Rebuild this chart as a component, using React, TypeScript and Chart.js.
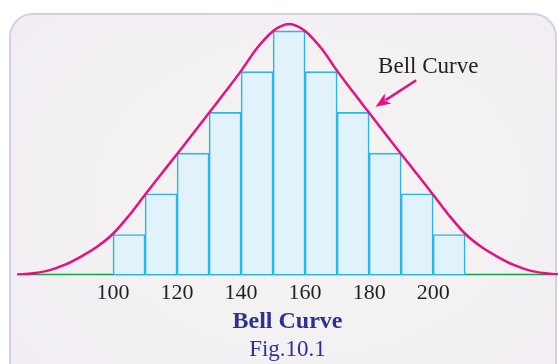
import React, { useEffect, useRef } from "react";
import { Chart, registerables } from "chart.js";

Chart.register(...registerables);

// Histogram classes (centres) and frequencies
const classMid = [105, 115, 125, 135, 145, 155, 165, 175, 185, 195, 205];
const frequencies = [1, 2, 3, 4, 5, 6, 5, 4, 3, 2, 1];

// Bell curve samples
const curveX = [70, 75, 80, 85, 90, 95, 100, 105, 110, 115, 120, 125, 130, 135, 140, 145, 150, 152.5, 155, 157.5, 160, 165, 170, 175, 180, 185, 190, 195, 200, 205, 210, 215, 220, 225, 230, 235, 240];
const curveY = [0.02, 0.05, 0.12, 0.26, 0.46, 0.7, 1.02, 1.47, 1.98, 2.48, 2.98, 3.48, 3.99, 4.5, 5.02, 5.58, 6.0, 6.12, 6.17, 6.12, 6.0, 5.58, 5.02, 4.5, 3.99, 3.48, 2.98, 2.48, 1.98, 1.47, 1.02, 0.7, 0.46, 0.26, 0.12, 0.05, 0.02];

// Base line
const baseX = [70, 236.6];
const baseY = [0, 0];

const tickValues = [100, 120, 140, 160, 180, 200];

const titleText = "Bell Curve";
const subtitleText = "Fig.10.1";
const annotationText = "Bell Curve";
// annotation anchor (data coords): text, arrow tail, arrow tip
const annotationPos = [182.8, 5.12];
const arrowTail = [194.7, 4.79];
const arrowTip = [182.0, 4.14];

const FONT = "'Liberation Serif', 'Times New Roman', serif";

export default function App() {
  const ref = useRef<HTMLCanvasElement | null>(null);

  useEffect(() => {
    if (!ref.current) return;
    Chart.defaults.font.family = FONT;

    const annotationPlugin = {
      id: "annot",
      afterDraw(chart: any) {
        const { ctx, scales } = chart;
        const xs = scales.x;
        const ys = scales.y;
        ctx.save();
        ctx.font = `23px ${FONT}`;
        ctx.fillStyle = "#231f20";
        ctx.textBaseline = "middle";
        ctx.textAlign = "left";
        ctx.fillText(annotationText, xs.getPixelForValue(annotationPos[0]), ys.getPixelForValue(annotationPos[1]));
        const x1 = xs.getPixelForValue(arrowTail[0]);
        const y1 = ys.getPixelForValue(arrowTail[1]);
        const x2 = xs.getPixelForValue(arrowTip[0]);
        const y2 = ys.getPixelForValue(arrowTip[1]);
        const ang = Math.atan2(y2 - y1, x2 - x1);
        const headLen = 15;
        const headW = 6;
        const bx = x2 - headLen * Math.cos(ang);
        const by = y2 - headLen * Math.sin(ang);
        ctx.strokeStyle = "#e6117f";
        ctx.lineWidth = 2.5;
        ctx.beginPath();
        ctx.moveTo(x1, y1);
        ctx.lineTo(bx + 3 * Math.cos(ang), by + 3 * Math.sin(ang));
        ctx.stroke();
        ctx.fillStyle = "#e6117f";
        ctx.beginPath();
        ctx.moveTo(x2, y2);
        ctx.lineTo(bx - headW * Math.sin(ang), by + headW * Math.cos(ang));
        ctx.lineTo(bx + 4 * Math.cos(ang), by + 4 * Math.sin(ang));
        ctx.lineTo(bx + headW * Math.sin(ang), by - headW * Math.cos(ang));
        ctx.closePath();
        ctx.fill();
        ctx.restore();
      },
    };

    const chart = new Chart(ref.current, {
      type: "bar",
      data: {
        datasets: [
          {
            type: "line",
            data: curveX.map((x, i) => ({ x, y: curveY[i] })),
            borderColor: "#e6117f",
            borderWidth: 2.5,
            pointRadius: 0,
            cubicInterpolationMode: "monotone",
            fill: false,
            order: 0,
          } as any,
          {
            type: "bar",
            data: classMid.map((x, i) => ({ x, y: frequencies[i] })),
            backgroundColor: "#e1f2fb",
            borderColor: "#2bb5ec",
            borderWidth: 1.6,
            borderSkipped: false,
            barPercentage: 1,
            categoryPercentage: 1,
            order: 1,
          } as any,
          {
            type: "line",
            data: baseX.map((x, i) => ({ x, y: baseY[i] })),
            borderColor: "#0fa34a",
            borderWidth: 3,
            pointRadius: 0,
            fill: false,
            order: 2,
          } as any,
        ],
      },
      options: {
        animation: false,
        responsive: false,
        devicePixelRatio: 1,
        layout: { padding: { left: 17, right: 0, top: 0, bottom: 0 } },
        plugins: {
          legend: { display: false },
          tooltip: { enabled: false },
          title: {
            display: true,
            text: titleText,
            position: "bottom",
            fullSize: false,
            weight: 1000,
            color: "#2e3192",
            font: { family: FONT, size: 24, weight: "bold" },
            padding: { top: 1, bottom: 0 },
          } as any,
          subtitle: {
            display: true,
            text: subtitleText,
            position: "bottom",
            fullSize: false,
            weight: 3000,
            color: "#2e3192",
            font: { family: FONT, size: 23, weight: "normal" },
            padding: { top: 0, bottom: 0 },
          } as any,
        },
        scales: {
          x: {
            type: "linear",
            min: 70,
            max: 239,
            offset: false,
            grid: { display: false, drawTicks: false },
            border: { display: false },
            afterBuildTicks: (scale: any) => {
              scale.ticks = tickValues.map((v) => ({ value: v }));
            },
            afterFit: (scale: any) => {
              scale.height = 31.3;
            },
            ticks: {
              padding: 5,
              color: "#231f20",
              font: { family: FONT, size: 22 },
              maxRotation: 0,
              autoSkip: false,
            },
          },
          y: {
            display: false,
            min: 0,
            max: 6.76,
          },
        },
      },
      plugins: [annotationPlugin],
    } as any);

    return () => chart.destroy();
  }, []);

  return (
    <div style={{ position: "fixed", left: 0, top: 0, width: 558, height: 364, overflow: "hidden", background: "#ffffff" }}>
      <div
        style={{
          position: "absolute",
          left: 9,
          top: 13,
          width: 544,
          height: 400,
          border: "2px solid #dccde6",
          borderRadius: 24,
          background: "radial-gradient(ellipse at 55% 45%, #f4f3f1 0%, #f3f1f2 45%, #f1ecf4 100%)",
        }}
      />
      <canvas
        ref={ref}
        width={558}
        height={364}
        style={{ position: "absolute", left: 0, top: 0, width: 558, height: 364 }}
      />
    </div>
  );
}
